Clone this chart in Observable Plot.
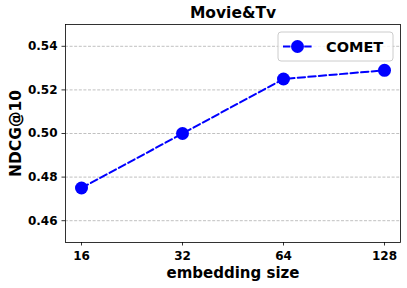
<!DOCTYPE html>
<html>
<head>
<meta charset="utf-8">
<script src="https://cdn.jsdelivr.net/npm/d3@7"></script>
<script src="https://cdn.jsdelivr.net/npm/@observablehq/plot@0.6"></script>
<style>
  html, body { margin: 0; padding: 0; background: #fff; }
  svg { display: block; }
</style>
</head>
<body>
<div id="chart"></div>
<script>
const sizes = ["16", "32", "64", "128"];
const ndcg = [0.475, 0.500, 0.525, 0.529];
const yTicks = [0.46, 0.48, 0.50, 0.52, 0.54];
const seriesName = "COMET";
const title = "Movie&Tv";
const xLabel = "embedding size";
const yLabel = "NDCG@10";

const data = sizes.map((s, i) => ({size: s, value: ndcg[i]}));
const font = "DejaVu Sans";

const chart = Plot.plot({
  width: 407,
  height: 288,
  marginLeft: 65,
  marginRight: 7,
  marginTop: 24,
  marginBottom: 46,
  style: {fontFamily: font, background: "#fff", overflow: "visible"},
  x: {type: "point", domain: sizes, padding: 0.147, label: null},
  y: {domain: [0.45, 0.55], label: null},
  marks: [
    Plot.gridY(yTicks, {stroke: "#b0b0b0", strokeOpacity: 1, strokeWidth: 0.8, strokeDasharray: "3,1.6"}),
    Plot.axisY(yTicks, {tickSize: 3.5, tickPadding: 4.5, tickFormat: d3.format(".2f"), fontSize: 12, fontWeight: "bold", fill: "#000", stroke: "#000", strokeWidth: 0.8, label: null}),
    Plot.axisX(sizes, {tickSize: 3.5, tickPadding: 5, fontSize: 12, fontWeight: "bold", fill: "#000", stroke: "#000", strokeWidth: 0.8, label: null}),
    Plot.line(data, {x: "size", y: "value", stroke: "#0000ff", strokeWidth: 2, strokeDasharray: "7.4,3.2"}),
    Plot.dot(data, {x: "size", y: "value", r: 6.5, fill: "#0000ff", stroke: "none"}),
    Plot.frame({stroke: "#000", strokeWidth: 0.8}),
    Plot.text([title], {frameAnchor: "top", lineAnchor: "middle", dy: -11.5, text: d => d, fontSize: 15.5, fontWeight: "bold", fill: "#000"}),
    Plot.text([xLabel], {frameAnchor: "bottom", lineAnchor: "middle", dy: 30.5, text: d => d, fontSize: 15, fontWeight: "bold", fill: "#000"}),
    Plot.text([yLabel], {frameAnchor: "left", lineAnchor: "middle", textAnchor: "middle", dx: -49, rotate: -90, text: d => d, fontSize: 15.5, fontWeight: "bold", fill: "#000"})
  ]
});

document.getElementById("chart").appendChild(chart);

// legend (upper right, matplotlib style)
const svg = d3.select(chart);
const g = svg.append("g").attr("font-family", font).attr("text-anchor", "start");
g.append("rect").attr("x", 278).attr("y", 32).attr("width", 115).attr("height", 29)
  .attr("rx", 3).attr("fill", "#fff").attr("fill-opacity", 0.8)
  .attr("stroke", "#cccccc").attr("stroke-width", 1);
g.append("line").attr("x1", 283).attr("x2", 312).attr("y1", 46.5).attr("y2", 46.5)
  .attr("stroke", "#0000ff").attr("stroke-width", 2).attr("stroke-dasharray", "7.4,3.2");
g.append("circle").attr("cx", 297.5).attr("cy", 46.5).attr("r", 6.5).attr("fill", "#0000ff");
g.append("text").attr("x", 326).attr("y", 46.5).attr("dy", "0.36em").attr("text-anchor", "start")
  .attr("font-size", 14.5).attr("font-weight", "bold").attr("fill", "#000").text(seriesName);
</script>
</body>
</html>
